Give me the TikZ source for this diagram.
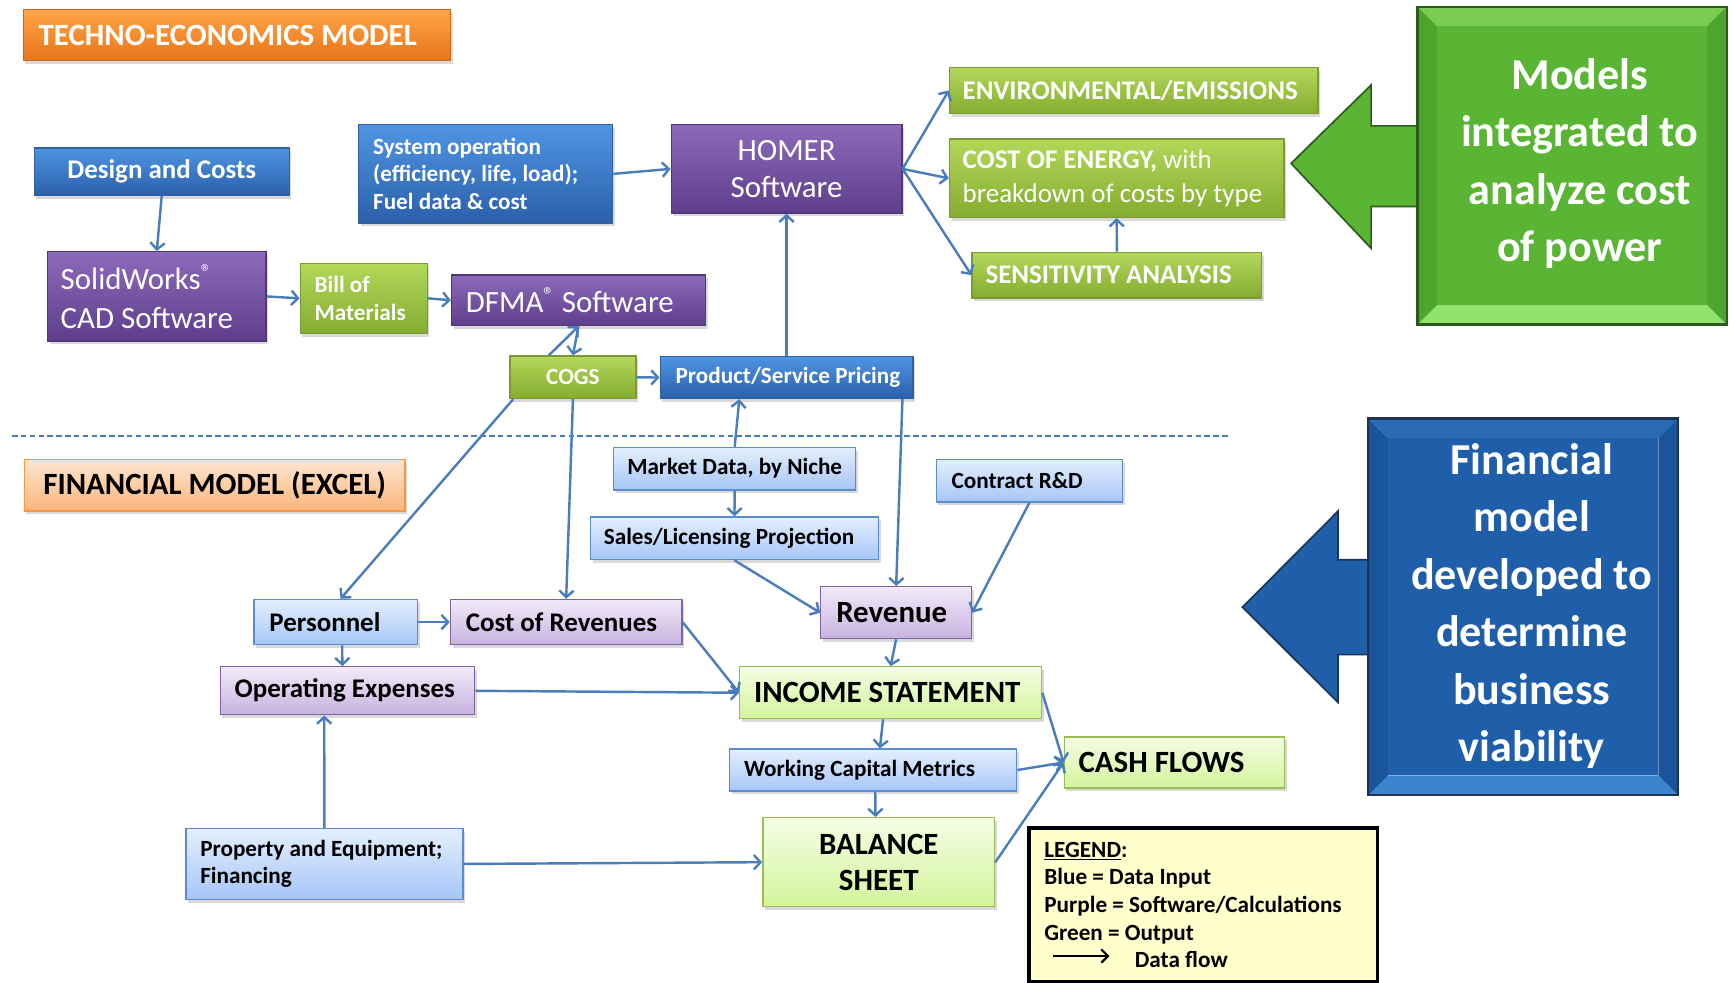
\documentclass[tikz,border=0pt]{standalone}
\usepackage{fontspec}
\setmainfont{Carlito}
\usetikzlibrary{arrows.meta,shadows,calc}
\definecolor{flowc}{HTML}{4A7EBB}
\definecolor{dbtop}{HTML}{4F95E2}
\definecolor{dbbot}{HTML}{2B5FAB}
\definecolor{dbdraw}{HTML}{30609E}
\definecolor{dptop}{HTML}{8C6ABA}
\definecolor{dpbot}{HTML}{5E3F8B}
\definecolor{dpdraw}{HTML}{523878}
\definecolor{dgtop}{HTML}{B2D85A}
\definecolor{dgbot}{HTML}{84AC2E}
\definecolor{dgdraw}{HTML}{7A9A3A}
\definecolor{otop}{HTML}{FFA548}
\definecolor{obot}{HTML}{E8741A}
\definecolor{odraw}{HTML}{C86A1C}
\definecolor{lbtop}{HTML}{E4EFFE}
\definecolor{lbbot}{HTML}{A6C6F7}
\definecolor{lbdraw}{HTML}{5B8BD0}
\definecolor{lptop}{HTML}{F2EAF9}
\definecolor{lpbot}{HTML}{C7B2DF}
\definecolor{lpdraw}{HTML}{8064A2}
\definecolor{lgtop}{HTML}{F5FDE4}
\definecolor{lgbot}{HTML}{D2F59C}
\definecolor{lgdraw}{HTML}{9BBB59}
\definecolor{lotop}{HTML}{FEE7D1}
\definecolor{lobot}{HTML}{FAB57A}
\definecolor{lodraw}{HTML}{F79646}
\definecolor{legfill}{HTML}{FFFFCC}
\definecolor{gmain}{HTML}{5AB534}
\definecolor{gtopb}{HTML}{7ACB52}
\definecolor{gbotb}{HTML}{90E26C}
\definecolor{gside}{HTML}{4EA52C}
\definecolor{gdark}{HTML}{2C5A1C}
\definecolor{bmain}{HTML}{1F5EA8}
\definecolor{btopb}{HTML}{2A6BB4}
\definecolor{bbotb}{HTML}{3D84CF}
\definecolor{bside}{HTML}{1A5599}
\definecolor{bdark}{HTML}{1C3452}
\newcommand\fA{\fontsize{21}{25}\selectfont}
\newcommand\fB{\fontsize{24.4}{30}\selectfont}
\newcommand\fC{\fontsize{28}{33}\selectfont}
\newcommand\fCs{\fontsize{28}{35}\selectfont}
\newcommand\fD{\fontsize{40}{52}\selectfont}
\newcommand\lb[2]{\makebox[#1pt][l]{#2}}
\begin{document}
\begin{tikzpicture}[x=1pt,y=-1pt,
  box/.style={rectangle, inner sep=0pt, align=center, line width=1.2pt,
    drop shadow={shadow xshift=2pt,shadow yshift=-3pt,opacity=0.3}},
  dblue/.style={box, draw=dbdraw, top color=dbtop, bottom color=dbbot, text=white},
  dpurp/.style={box, draw=dpdraw, top color=dptop, bottom color=dpbot, text=white},
  dgreen/.style={box, draw=dgdraw, top color=dgtop, bottom color=dgbot, text=white},
  orangebox/.style={box, draw=odraw, top color=otop, bottom color=obot, text=white},
  lblue/.style={box, draw=lbdraw, top color=lbtop, bottom color=lbbot, text=black},
  lpurp/.style={box, draw=lpdraw, top color=lptop, bottom color=lpbot, text=black},
  lgreen/.style={box, draw=lgdraw, top color=lgtop, bottom color=lgbot, text=black},
  lorange/.style={box, draw=lodraw, top color=lotop, bottom color=lobot, text=black},
  bigtext/.style={inner sep=0pt, align=center, text=white, font=\bfseries\fD},
  flow/.style={draw=flowc, line width=2.2pt, -{Straight Barb[length=6pt,width=13pt]}},
]
\useasboundingbox (0,0) rectangle (1568,890);

% ---------- top section ----------
\node[orangebox, minimum width=387pt, minimum height=46.5pt, font=\bfseries\fC] (title) at (214.5,31.75) {\lb{359}{TECHNO-ECONOMICS MODEL}};
\node[dblue, minimum width=231pt, minimum height=43pt, font=\bfseries\fB] (design) at (146.5,155.5) {Design and Costs};
\node[dblue, minimum width=230pt, minimum height=89pt, font=\bfseries\fA] (sysop) at (440,157.5) {\lb{204}{System operation}\\\lb{204}{(efficiency, life, load);}\\\lb{204}{Fuel data \& cost}};
\node[dpurp, minimum width=209pt, minimum height=80pt, font=\fC] (homer) at (712.5,153) {HOMER\\Software};
\node[dpurp, minimum width=198pt, minimum height=81pt, font=\fCs] (solid) at (142,268.5) {\lb{174}{SolidWorks\textsuperscript{®}}\\\lb{174}{CAD Software}};
\node[dgreen, minimum width=115pt, minimum height=63.5pt, font=\bfseries\fA] (bom) at (329.5,270.25) {\lb{89}{Bill of}\\\lb{89}{Materials}};
\node[dpurp, minimum width=230pt, minimum height=46pt, font=\fC] (dfma) at (524,272) {\lb{204}{DFMA\textsuperscript{®} Software}};
\node[dgreen, minimum width=114pt, minimum height=38.5pt, font=\bfseries\fA] (cogs) at (519,341.75) {COGS};
\node[dblue, minimum width=229pt, minimum height=38pt, font=\bfseries\fA] (pricing) at (712.5,342) {\lb{201}{Product/Service Pricing}};
\node[dgreen, minimum width=334pt, minimum height=42pt, font=\bfseries\fB] (env) at (1027,82) {\lb{310}{ENVIRONMENTAL/EMISSIONS}};
\node[dgreen, minimum width=303pt, minimum height=71pt, font=\fB] (coe) at (1011.5,161.5) {\lb{279}{\textbf{COST OF ENERGY,} with}\\\lb{279}{breakdown of costs by type}};
\node[dgreen, minimum width=262.2pt, minimum height=41.4pt, font=\bfseries\fB] (sens) at (1011.7,249.3) {\lb{238}{SENSITIVITY ANALYSIS}};

% big green arrow + box
\draw[gdark, fill=gmain, line width=1.5pt] (1169.5,148) -- (1242,77) -- (1242,114) -- (1292,114) -- (1292,187) -- (1242,187) -- (1242,225) -- cycle;
\fill[gtopb] (1284,6) -- (1564,6) -- (1546,24) -- (1302,24) -- cycle;
\fill[gbotb] (1284,294) -- (1564,294) -- (1546,276) -- (1302,276) -- cycle;
\fill[gside] (1284,6) -- (1302,24) -- (1302,276) -- (1284,294) -- cycle;
\fill[gside] (1564,6) -- (1546,24) -- (1546,276) -- (1564,294) -- cycle;
\fill[gmain] (1302,24) rectangle (1546,276);
\draw[gdark, line width=2pt] (1284,6) rectangle (1564,294);
\node[bigtext] (gbox) at (1431,148) {Models\\integrated to\\analyze cost\\of power};

% dashed separator
\coordinate (dl) at (11,395);
\coordinate (dr) at (1112,395);
\draw[flowc, line width=1.6pt, dash pattern=on 5pt off 3pt] (dl) -- (dr);

% ---------- bottom section ----------
\node[lorange, minimum width=345pt, minimum height=47pt, font=\bfseries\fC] (finmodel) at (194.5,439.5) {FINANCIAL MODEL (EXCEL)};
\node[lblue, minimum width=219pt, minimum height=38.5pt, font=\bfseries\fA] (market) at (665.5,424.5) {Market Data, by Niche};
\node[lblue, minimum width=260.6pt, minimum height=38.7pt, font=\bfseries\fA] (sales) at (665.3,487.6) {\lb{236.6}{Sales/Licensing Projection}};
\node[lblue, minimum width=169pt, minimum height=38.7pt, font=\bfseries\fA] (contract) at (932.5,435.3) {\lb{141}{Contract R\&D}};
\node[lblue, minimum width=148pt, minimum height=41pt, font=\bfseries\fB] (personnel) at (304,563.5) {\lb{120}{Personnel}};
\node[lpurp, minimum width=209.7pt, minimum height=41pt, font=\bfseries\fB] (costrev) at (512.85,563.5) {\lb{181.7}{Cost of Revenues}};
\node[lpurp, minimum width=136.5pt, minimum height=47pt, font=\bfseries\fC] (revenue) at (811.75,555) {\lb{108.5}{Revenue}};
\node[lpurp, minimum width=230.5pt, minimum height=43.5pt, font=\bfseries\fB] (opex) at (314.75,625.75) {\lb{204.5}{Operating Expenses}};
\node[lgreen, minimum width=273.6pt, minimum height=47pt, font=\bfseries\fC] (income) at (806.8,627.5) {\lb{247.6}{INCOME STATEMENT}};
\node[lblue, minimum width=260pt, minimum height=38pt, font=\bfseries\fA] (wcm) at (791,697.5) {\lb{234}{Working Capital Metrics}};
\node[lgreen, minimum width=199.4pt, minimum height=46.2pt, font=\bfseries\fC] (cash) at (1063.7,690.7) {\lb{173.4}{CASH FLOWS}};
\node[lblue, minimum width=251pt, minimum height=64pt, font=\bfseries\fA] (property) at (293.9,782.6) {\lb{225}{Property and Equipment;}\\\lb{225}{Financing}};
\node[lgreen, minimum width=210pt, minimum height=80.7pt, font=\bfseries\fC] (balance) at (796,781) {BALANCE\\SHEET};

% legend
\node[draw=black, line width=3.5pt, fill=legfill, inner sep=0pt, minimum width=315.8pt, minimum height=139.5pt, align=center, font=\bfseries\fA] (legend) at (1089.9,819.75) {\lb{287.8}{\underline{LEGEND}:}\\\lb{287.8}{Blue = Data Input}\\\lb{287.8}{Purple = Software/Calculations}\\\lb{287.8}{Green = Output}\\\lb{287.8}{\hspace*{82pt}Data flow}};
\coordinate (la) at (954,866);
\coordinate (lb) at (1005,866);
\draw[black, line width=2pt, -{Straight Barb[length=6pt,width=12pt]}] (la) -- (lb);

% big blue arrow + box
\draw[bdark, fill=bmain, line width=1.5pt] (1125.4,550) -- (1212,463) -- (1212,507) -- (1247,507) -- (1247,593) -- (1212,593) -- (1212,636.3) -- cycle;
\fill[btopb] (1239.4,379) -- (1520.2,379) -- (1502.2,397) -- (1257.4,397) -- cycle;
\fill[bbotb] (1239.4,720.4) -- (1520.2,720.4) -- (1502.2,702.4) -- (1257.4,702.4) -- cycle;
\fill[bside] (1239.4,379) -- (1257.4,397) -- (1257.4,702.4) -- (1239.4,720.4) -- cycle;
\fill[bside] (1520.2,379) -- (1502.2,397) -- (1502.2,702.4) -- (1520.2,720.4) -- cycle;
\fill[bmain] (1257.4,397) rectangle (1502.2,702.4);
\draw[bdark, line width=2pt] (1239.4,379) rectangle (1520.2,720.4);
\node[bigtext] (bbox) at (1387.5,549) {Financial\\model\\developed to\\determine\\business\\viability};

% ---------- connectors ----------
\draw[flow] (design.south) -- (solid.north);
\draw[flow] (sysop.east) -- (homer.west);
\draw[flow] (solid.east) -- (bom.west);
\draw[flow] (bom.east) -- (dfma.west);
\draw[flow] (homer.east) -- (env.west);
\draw[flow] (homer.east) -- (coe.west);
\draw[flow] (homer.east) -- (sens.west);
\draw[flow] (sens.north) -- (coe.south);
\draw[flow] (pricing.north) -- (homer.south);
\draw[flow] ($(cogs.north west)!0.31!(cogs.north east)$) -- (dfma.south);
\draw[flow] (dfma.south) -- (cogs.north);
\draw[flow] (cogs.east) -- (pricing.west);
\draw[flow] ($(cogs.south west)!0.03!(cogs.south east)$) -- ($(personnel.north west)!0.53!(personnel.north east)$);
\draw[flow] (cogs.south) -- (costrev.north);
\draw[flow] (market.north) -- ($(pricing.south west)!0.314!(pricing.south east)$);
\draw[flow] (market.south) -- (sales.north);
\draw[flow] ($(pricing.south west)!0.956!(pricing.south east)$) -- (revenue.north);
\draw[flow] (sales.south) -- (revenue.west);
\draw[flow] (contract.south) -- (revenue.east);
\draw[flow] (personnel.east) -- (costrev.west);
\draw[flow] ($(personnel.south west)!0.54!(personnel.south east)$) -- ($(opex.north west)!0.48!(opex.north east)$);
\draw[flow] (costrev.east) -- (income.west);
\draw[flow] (opex.east) -- (income.west);
\draw[flow] (revenue.south) -- (income.north);
\draw[flow] ($(income.south west)!0.475!(income.south east)$) -- ($(wcm.north west)!0.523!(wcm.north east)$);
\draw[flow] ($(wcm.south west)!0.507!(wcm.south east)$) -- ($(balance.north west)!0.486!(balance.north east)$);
\draw[flow] (income.east) -- (cash.west);
\draw[flow] (wcm.east) -- (cash.west);
\draw[flow] (balance.east) -- (cash.west);
\draw[flow] (property.east) -- (balance.west);
\draw[flow] (property.north) -- ($(opex.south west)!0.409!(opex.south east)$);
\end{tikzpicture}
\end{document}
